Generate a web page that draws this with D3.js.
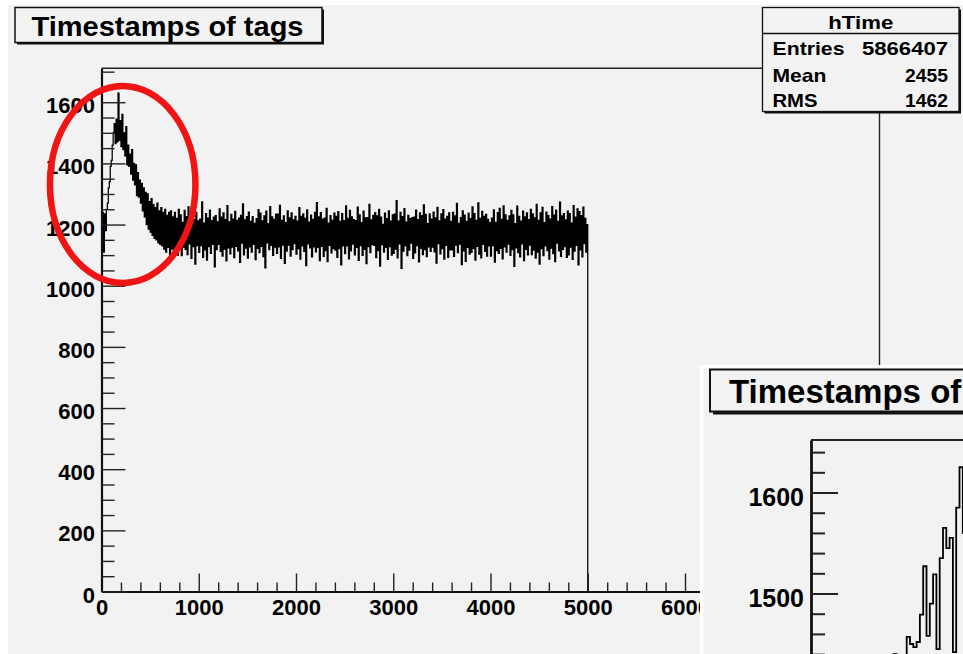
<!DOCTYPE html>
<html>
<head>
<meta charset="utf-8">
<script src="https://cdn.jsdelivr.net/npm/d3@7"></script>
<style>
  html, body { margin: 0; padding: 0; background: #ffffff; }
  svg { display: block; }
  text { font-family: "Liberation Sans", Arial, Helvetica, sans-serif; font-weight: bold; fill: #000; }
</style>
</head>
<body>
<svg id="canvas" width="963" height="654"></svg>
<script>
// ---- histogram hTime: counts per bin, sampled every 10 time units over [0, 5000) ----
const histTitle = "Timestamps of tags";
const histName = "hTime";
const statLabels = ["Entries", "Mean", "RMS"];
const statValues = ["5866407", "2455", "1462"];

const binWidth = 10;
const dataEnd = 5000;
const counts = [
  1150,1240,1110,1235,1180,1250,1270,1320,1340,1390,1410,1460,1500,1530,1465,1545,1470,1630,1475,1540,
  1455,1560,1445,1500,1425,1520,1395,1460,1390,1430,1365,1445,1345,1400,1330,1395,1295,1370,1290,1345,
  1270,1335,1245,1320,1225,1305,1200,1300,1185,1275,1175,1285,1165,1265,1155,1255,1150,1270,1140,1245,
  1135,1255,1130,1240,1120,1250,1110,1230,1125,1240,1100,1245,1120,1225,1095,1240,1110,1220,1100,1250,
  1120,1232,1098,1207,1126,1246,1119,1226,1102,1258,1137,1211,1089,1229,1128,1216,1071,1240,1131,1212,
  1109,1218,1131,1274,1093,1205,1117,1236,1084,1221,1128,1247,1106,1213,1135,1224,1062,1229,1118,1209,
  1135,1251,1112,1224,1097,1238,1120,1216,1081,1262,1124,1209,1104,1233,1126,1218,1092,1243,1129,1214,
  1114,1221,1076,1230,1139,1268,1101,1215,1123,1226,1090,1241,1127,1210,1110,1226,1135,1204,1085,1219,
  1122,1249,1108,1237,1129,1212,1095,1228,1058,1244,1140,1203,1118,1259,1132,1225,1099,1217,1126,1234,
  1106,1234,1127,1263,1089,1214,1133,1228,1073,1206,1113,1245,1133,1222,1097,1238,1118,1215,1138,1227,
  1103,1211,1121,1255,1087,1227,1130,1235,1112,1220,1066,1248,1137,1208,1124,1231,1094,1217,1127,1240,
  1111,1272,1125,1225,1082,1239,1129,1218,1096,1221,1115,1253,1079,1205,1132,1229,1107,1214,1121,1237,
  1116,1227,1093,1242,1121,1210,1068,1236,1130,1213,1105,1261,1130,1220,1088,1246,1114,1225,1136,1216,
  1101,1213,1125,1257,1083,1232,1131,1206,1099,1244,1119,1222,1072,1223,1128,1266,1108,1215,1134,1230,
  1132,1239,1092,1228,1115,1250,1064,1224,1134,1201,1110,1237,1125,1219,1086,1245,1128,1211,1100,1232,
  1106,1234,1120,1278,1091,1211,1137,1240,1057,1226,1113,1252,1130,1208,1098,1230,1116,1219,1139,1223,
  1089,1224,1107,1247,1131,1216,1078,1238,1122,1229,1102,1264,1118,1233,1095,1203,1127,1235,1112,1218,
  1126,1241,1111,1222,1074,1256,1138,1212,1104,1235,1121,1249,1087,1218,1132,1227,1093,1238,1117,1210,
  1117,1240,1096,1228,1133,1269,1108,1204,1136,1223,1069,1245,1114,1231,1080,1210,1125,1237,1103,1219,
  1109,1258,1122,1236,1084,1214,1129,1271,1103,1220,1091,1243,1135,1227,1112,1233,1097,1217,1130,1206,
  1097,1221,1131,1248,1077,1207,1115,1239,1106,1253,1122,1217,1088,1261,1127,1232,1110,1214,1136,1228,
  1099,1246,1118,1232,1063,1203,1124,1260,1108,1227,1094,1211,1137,1244,1082,1225,1119,1238,1101,1216,
  1133,1250,1102,1235,1116,1222,1090,1266,1110,1214,1071,1238,1121,1256,1098,1206,1130,1241,1115,1229,
  1087,1218,1123,1259,1105,1231,1079,1247,1139,1210,1114,1273,1096,1228,1119,1236,1128,1215,1093,1244,
  1101,1236,1126,1205,1086,1262,1113,1224,1132,1251,1068,1242,1117,1229,1094,1257,1138,1220,1110,1200
];

// axis ranges and tick values
const xDomain = [0, 8000];
const yDomain = [0, 1711];
const xMajorTicks = [0, 1000, 2000, 3000, 4000, 5000, 6000, 7000, 8000];
const xTickLabels = [0, 1000, 2000, 3000, 4000, 5000, 6000];
const yMajorTicks = [0, 200, 400, 600, 800, 1000, 1200, 1400, 1600];
const xMinorStep = 200;
const yMinorStep = 50;

// highlighted peak region (data units)
const highlight = { x: 218, y: 1331, rx: 748, ry: 322 };

// ---- zoomed copy of the peak (unit-width bins) ----
const insetTitle = "Timestamps of tags";
const insetBinStart = 116;
const insetCounts = [
  1370,1395,1385,1410,1400,1425,1405,1430,1415,1440,1420,1438,1430,1457,1450,1447,1452,1479,
  1527,1458,1490,1519,1445,1535,1565,1545,1555,1442,1585,1625,1560,1563,1540,1600
];
const insetXDomain = [100, 300];
const insetYDomain = [1400, 1652];
const insetYMajorTicks = [1400, 1500, 1600];
const insetYTickLabels = [1500, 1600];
const insetYMinorStep = 20;

// ---------------------------------------------------------------------------
const svg = d3.select("#canvas");
const GREY = "#f2f2f2";

svg.append("rect").attr("x", 0).attr("y", 0).attr("width", 963).attr("height", 654).attr("fill", "#fff");
svg.append("rect").attr("x", 8).attr("y", 5).attr("width", 955).attr("height", 649).attr("fill", GREY);

// boxed title with a drop shadow
function titleBox(g, x, y, w, h, shadow, lw) {
  g.append("rect").attr("x", x + shadow).attr("y", y + shadow).attr("width", w).attr("height", h)
    .attr("fill", "#111");
  g.append("rect").attr("x", x).attr("y", y).attr("width", w).attr("height", h)
    .attr("fill", GREY).attr("stroke", "#111").attr("stroke-width", lw);
}

// ---- main pad ----
const x = d3.scaleLinear().domain(xDomain).range([101.5, 879.5]);
const y = d3.scaleLinear().domain(yDomain).range([591.5, 68.3]);

const main = svg.append("g");
titleBox(main, 15, 7.5, 307, 35, 2, 1.5);
main.append("text").attr("x", 31.5).attr("y", 35.5)
  .attr("font-size", 27).attr("textLength", 272).attr("lengthAdjust", "spacingAndGlyphs")
  .text(histTitle);

// frame (top and right sides)
main.append("path")
  .attr("d", `M${x(xDomain[0])},${y(yDomain[1])}H${x(xDomain[1])}V${y(yDomain[0])}`)
  .attr("fill", "none").attr("stroke", "#222").attr("stroke-width", 1.4);

// histogram outline
main.append("clipPath").attr("id", "frameClip").append("rect")
  .attr("x", x(xDomain[0])).attr("y", y(yDomain[1]))
  .attr("width", x(xDomain[1]) - x(xDomain[0])).attr("height", y(yDomain[0]) - y(yDomain[1]));

const histPoints = [[0, 0]]
  .concat(counts.map((c, i) => [i * binWidth, c]))
  .concat([[dataEnd, 0], [xDomain[1], 0]]);
const stepLine = d3.line().x(d => x(d[0])).y(d => y(d[1])).curve(d3.curveStepAfter);
main.append("path").attr("clip-path", "url(#frameClip)")
  .attr("d", stepLine(histPoints))
  .attr("fill", "none").attr("stroke", "#000").attr("stroke-width", 1.25);

// axes: ticks point into the frame
const xMinor = d3.range(xDomain[0], xDomain[1] + 1, xMinorStep).filter(v => v % 1000 !== 0);
const yMinor = d3.range(yDomain[0], yDomain[1], yMinorStep).filter(v => v % 200 !== 0);

main.append("g").attr("transform", `translate(0,${y(0)})`)
  .call(d3.axisBottom(x).tickValues(xMinor).tickSize(-9).tickSizeOuter(0).tickFormat(""))
  .call(g => g.select(".domain").remove())
  .call(g => g.selectAll("line").attr("stroke", "#222").attr("stroke-width", 1.4));
main.append("g").attr("transform", `translate(${x(0)},0)`)
  .call(d3.axisLeft(y).tickValues(yMinor).tickSize(-13).tickSizeOuter(0).tickFormat(""))
  .call(g => g.select(".domain").remove())
  .call(g => g.selectAll("line").attr("stroke", "#222").attr("stroke-width", 1.4));

main.append("g").attr("transform", `translate(0,${y(0)})`)
  .call(d3.axisBottom(x).tickValues(xMajorTicks).tickSize(-18).tickSizeOuter(0).tickFormat(""))
  .call(g => g.select(".domain").attr("stroke", "#111").attr("stroke-width", 2))
  .call(g => g.selectAll("line").attr("stroke", "#222").attr("stroke-width", 1.4));
main.append("g").attr("transform", `translate(0,${y(0)})`)
  .call(d3.axisBottom(x).tickValues(xTickLabels).tickSize(0).tickSizeOuter(0).tickPadding(8).tickFormat(d3.format("d")))
  .call(g => g.select(".domain").remove())
  .call(g => g.selectAll("text").attr("font-size", 22).attr("font-family", null).attr("fill", "#000"));
main.append("g").attr("transform", `translate(${x(0)},0)`)
  .call(d3.axisLeft(y).tickValues(yMajorTicks).tickSize(-24).tickSizeOuter(0).tickPadding(6.5).tickFormat(d3.format("d")))
  .call(g => g.select(".domain").attr("stroke", "#111").attr("stroke-width", 2.2))
  .call(g => g.selectAll("line").attr("stroke", "#222").attr("stroke-width", 1.4))
  .call(g => g.selectAll("text").attr("font-size", 22).attr("font-family", null).attr("fill", "#000").attr("dy", "0.48em"));

// statistics box
const stats = svg.append("g");
const sx = 762.5, sy = 7.5, sw = 196.5, sh = 104;
titleBox(stats, sx, sy, sw, sh, 2, 1.3);
stats.append("line").attr("x1", sx).attr("x2", sx + sw).attr("y1", 33.5).attr("y2", 33.5)
  .attr("stroke", "#111").attr("stroke-width", 1.3);
stats.append("text").attr("x", sx + sw / 2).attr("y", 29.3).attr("text-anchor", "middle")
  .attr("font-size", 19).attr("textLength", 65).attr("lengthAdjust", "spacingAndGlyphs").text(histName);
const labelWidths = [72, 54, 45];
const valueWidths = [86, 43, 43];
const rowBase = [55, 81.5, 107];
statLabels.forEach((s, i) => {
  stats.append("text").attr("x", 772.5).attr("y", rowBase[i])
    .attr("font-size", 19).attr("textLength", labelWidths[i]).attr("lengthAdjust", "spacingAndGlyphs").text(s);
  stats.append("text").attr("x", 948 - valueWidths[i]).attr("y", rowBase[i])
    .attr("font-size", 19).attr("textLength", valueWidths[i]).attr("lengthAdjust", "spacingAndGlyphs").text(statValues[i]);
});

// red highlight around the early peak
svg.append("ellipse")
  .attr("cx", x(highlight.x)).attr("cy", y(highlight.y))
  .attr("rx", x(highlight.rx) - x(0)).attr("ry", y(0) - y(highlight.ry))
  .attr("fill", "none").attr("stroke", "#f01414").attr("stroke-width", 6.5);

// ---- inset pad: zoom on the peak ----
const inset = svg.append("g");
inset.append("rect").attr("x", 700).attr("y", 365).attr("width", 300).attr("height", 300).attr("fill", "#fff");
inset.append("rect").attr("x", 703.5).attr("y", 367.5).attr("width", 300).attr("height", 300).attr("fill", GREY);
titleBox(inset, 710, 369.5, 400, 42, 3, 2);
inset.append("text").attr("x", 729).attr("y", 402.5).attr("font-size", 33).text(insetTitle);

const ix = d3.scaleLinear().domain(insetXDomain).range([811, 1471]);
const iy = d3.scaleLinear().domain(insetYDomain).range([694.5, 440]);

inset.append("path")
  .attr("d", `M${ix(insetXDomain[0])},${iy(insetYDomain[1])}H${ix(insetXDomain[1])}`)
  .attr("stroke", "#222").attr("stroke-width", 2);

inset.append("clipPath").attr("id", "insetClip").append("rect")
  .attr("x", ix(insetXDomain[0])).attr("y", iy(insetYDomain[1]))
  .attr("width", ix(insetXDomain[1]) - ix(insetXDomain[0])).attr("height", iy(insetYDomain[0]) - iy(insetYDomain[1]));
const insetPoints = insetCounts.map((c, i) => [insetBinStart + i, c])
  .concat([[insetBinStart + insetCounts.length, insetCounts[insetCounts.length - 1]]]);
const insetLine = d3.line().x(d => ix(d[0])).y(d => iy(d[1])).curve(d3.curveStepAfter);
inset.append("path").attr("clip-path", "url(#insetClip)")
  .attr("d", insetLine(insetPoints))
  .attr("fill", "none").attr("stroke", "#000").attr("stroke-width", 1.8);

const iyMinor = d3.range(insetYDomain[0], insetYDomain[1], insetYMinorStep).filter(v => v % 100 !== 0);
inset.append("g").attr("transform", `translate(${ix(insetXDomain[0])},0)`)
  .call(d3.axisLeft(iy).tickValues(iyMinor).tickSize(-14).tickSizeOuter(0).tickFormat(""))
  .call(g => g.select(".domain").remove())
  .call(g => g.selectAll("line").attr("stroke", "#222").attr("stroke-width", 2));
inset.append("g").attr("transform", `translate(${ix(insetXDomain[0])},0)`)
  .call(d3.axisLeft(iy).tickValues(insetYMajorTicks).tickSize(-27).tickSizeOuter(0).tickFormat(""))
  .call(g => g.select(".domain").attr("stroke", "#111").attr("stroke-width", 2.8))
  .call(g => g.selectAll("line").attr("stroke", "#222").attr("stroke-width", 2));
inset.append("g").attr("transform", `translate(${ix(insetXDomain[0])},0)`)
  .call(d3.axisLeft(iy).tickValues(insetYTickLabels).tickSize(0).tickSizeOuter(0).tickPadding(7).tickFormat(d3.format("d")))
  .call(g => g.select(".domain").remove())
  .call(g => g.selectAll("text").attr("font-size", 25).attr("font-family", null).attr("fill", "#000").attr("dy", "0.5em"));
</script>
</body>
</html>
